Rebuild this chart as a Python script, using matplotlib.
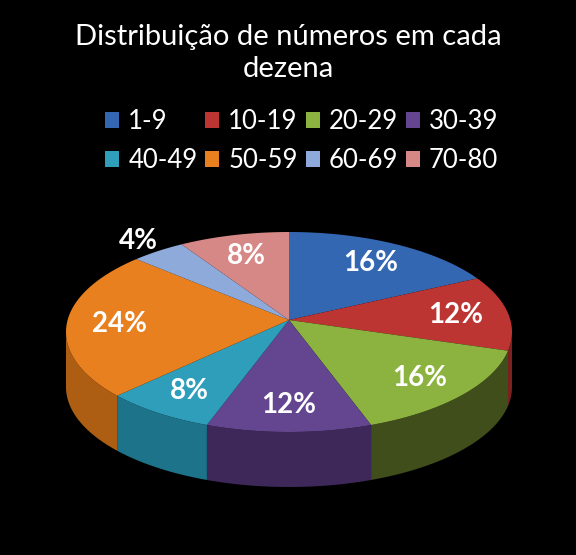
import numpy as np
import matplotlib.pyplot as plt
from matplotlib.patches import Polygon, Patch

labels = ['1-9', '10-19', '20-29', '30-39', '40-49', '50-59', '60-69', '70-80']
values = [16, 12, 16, 12, 8, 24, 4, 8]
top_colors = ['#3467B2', '#BC3533', '#8CB23F', '#63468F', '#2E9EBB', '#E9801F', '#8DAADB', '#D68886']
side_colors = ['#23477C', '#7E2220', '#3F4E1B', '#3E2859', '#1D7389', '#AE5E12', '#5E7AA6', '#9A5C5A']
title = 'Distribuição de números em cada\ndezena'

# pie geometry in pixel coordinates (slight perspective: apex above ellipse centre)
cx, cy = 289, 332
ax0, ay0 = 289, 320
rx, ry = 223, 100
depth = 55

fig = plt.figure(figsize=(5.76, 5.55), dpi=100, facecolor='black')
ax = fig.add_axes([0, 0, 1, 1])
ax.set_xlim(0, 576)
ax.set_ylim(555, 0)
ax.axis('off')
ax.set_facecolor('black')


def pt(theta, dy=0):
    # theta in degrees, clockwise from 12 o'clock
    t = np.radians(theta)
    return cx + rx * np.sin(t), cy - ry * np.cos(t) + dy


total = float(sum(values))
starts = np.cumsum([0] + values[:-1]) / total * 360
ends = np.cumsum(values) / total * 360

# side walls (front half only)
for s, e, col in zip(starts, ends, side_colors):
    a0, a1 = max(s, 90), min(e, 270)
    if a1 <= a0:
        continue
    th = np.linspace(a0, a1, 60)
    xs, ys = pt(th)
    xb, yb = pt(th[::-1], depth)
    poly = np.column_stack([np.concatenate([xs, xb]), np.concatenate([ys, yb])])
    ax.add_patch(Polygon(poly, closed=True, facecolor=col, edgecolor='none'))

# top faces
for s, e, col in zip(starts, ends, top_colors):
    th = np.linspace(s, e, 80)
    xs, ys = pt(th)
    poly = np.column_stack([np.concatenate([[ax0], xs]), np.concatenate([[ay0], ys])])
    ax.add_patch(Polygon(poly, closed=True, facecolor=col, edgecolor='none'))

# percentage labels
for s, e, v in zip(starts, ends, values):
    mid = (s + e) / 2
    frac = 1.15 if v < 5 else 0.76
    px, py = pt(mid)
    x, y = ax0 + frac * (px - ax0), ay0 + frac * (py - ay0)
    ax.text(x, y, f'{v}%', color='white', fontsize=20, fontweight='bold',
            family='Lato', ha='center', va='center')

ax.text(288, 53, title, color='white', fontsize=21, family='Lato',
        ha='center', va='center', linespacing=1.25)

# legend filled row by row
order = [0, 4, 1, 5, 2, 6, 3, 7]
handles = [Patch(facecolor=top_colors[i], edgecolor='none') for i in order]
leg = ax.legend(handles, [labels[i] for i in order], ncol=4, loc='upper center',
                bbox_to_anchor=(0.524, 0.845), frameon=False, labelcolor='white',
                prop={'family': 'Lato', 'size': 18.5},
                handlelength=0.55, handleheight=0.55, handletextpad=0.35, columnspacing=0.3,
                labelspacing=0.55)

fig.savefig('out.png', dpi=100, facecolor='black')
